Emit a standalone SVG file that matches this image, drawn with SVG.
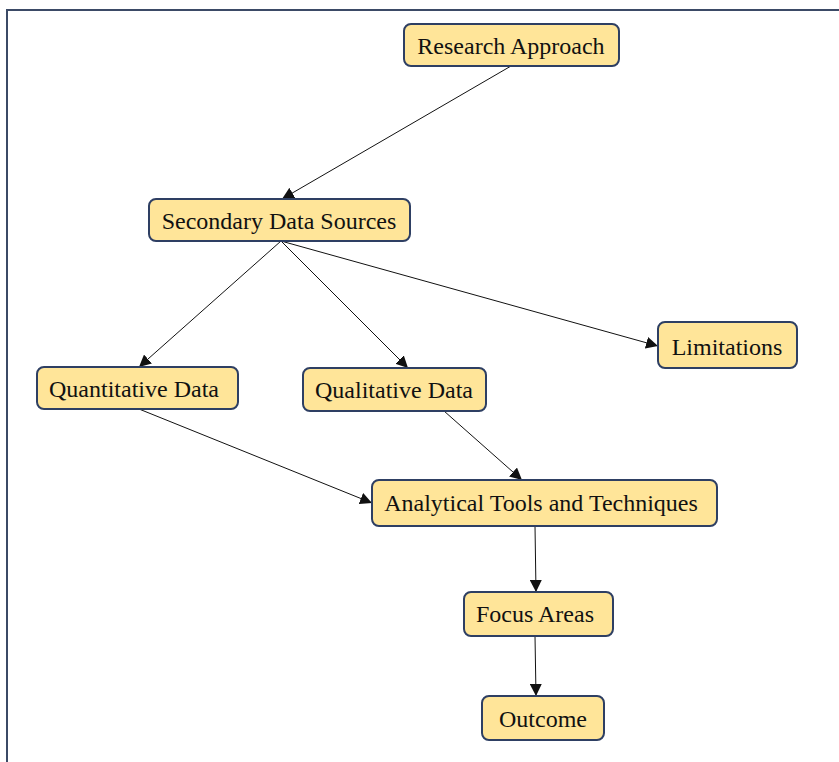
<svg xmlns="http://www.w3.org/2000/svg" width="839" height="762" viewBox="0 0 839 762">
<style>
.box{fill:#ffe599;stroke:#2e3f63;stroke-width:2}
.t{font-family:"Liberation Serif","Times New Roman",serif;font-size:24px;fill:#111;text-anchor:middle;dominant-baseline:central}
.e{stroke:#111;stroke-width:1;fill:none;marker-end:url(#ah)}
</style>
<defs>
<marker id="ah" viewBox="0 0 10 10" refX="10" refY="5" markerWidth="12" markerHeight="12" markerUnits="userSpaceOnUse" orient="auto">
<path d="M0,0 L10,5 L0,10 z" fill="#111"/>
</marker>
</defs>
<rect width="839" height="762" fill="#fff"/>
<path d="M7,762 V10 H839" fill="none" stroke="#3b4a66" stroke-width="2"/>
<g id="connectors">
<line class="e" x1="511" y1="66" x2="282" y2="199"/>
<line class="e" x1="281" y1="241" x2="139" y2="367"/>
<line class="e" x1="281" y1="241" x2="408" y2="368"/>
<line class="e" x1="281" y1="241" x2="658" y2="346"/>
<line class="e" x1="139" y1="409" x2="372" y2="503"/>
<line class="e" x1="444" y1="411" x2="522" y2="480"/>
<line class="e" x1="535" y1="526" x2="536" y2="592"/>
<line class="e" x1="535" y1="636" x2="536" y2="696"/>
</g>
<g id="research-approach"><rect class="box" x="404" y="24" width="215" height="42" rx="7"/><text class="t" x="511" y="46">Research Approach</text></g>
<g id="secondary-data-sources"><rect class="box" x="149" y="199" width="261" height="42" rx="7"/><text class="t" x="279" y="221">Secondary Data Sources</text></g>
<g id="quantitative-data"><rect class="box" x="37" y="367" width="201" height="42" rx="7"/><text class="t" x="134" y="389">Quantitative Data</text></g>
<g id="qualitative-data"><rect class="box" x="303" y="368" width="183" height="43" rx="7"/><text class="t" x="394" y="390">Qualitative Data</text></g>
<g id="limitations"><rect class="box" x="658" y="322" width="139" height="46" rx="7"/><text class="t" x="727" y="347">Limitations</text></g>
<g id="analytical-tools"><rect class="box" x="372" y="480" width="345" height="46" rx="7"/><text class="t" x="541" y="503">Analytical Tools and Techniques</text></g>
<g id="focus-areas"><rect class="box" x="464" y="592" width="149" height="44" rx="7"/><text class="t" x="535" y="614">Focus Areas</text></g>
<g id="outcome"><rect class="box" x="482" y="696" width="122" height="44" rx="7"/><text class="t" x="543" y="719">Outcome</text></g>
</svg>
